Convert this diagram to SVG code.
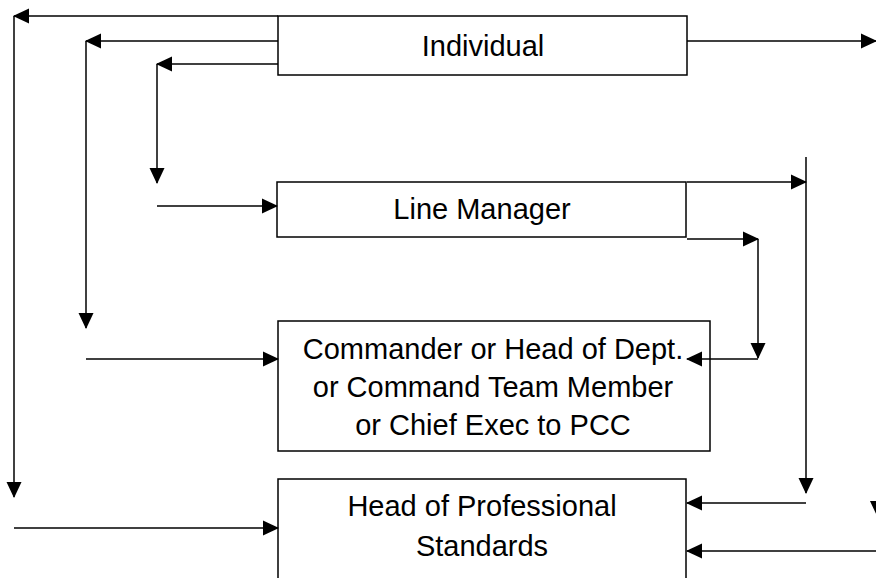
<svg xmlns="http://www.w3.org/2000/svg" width="876" height="578" viewBox="0 0 876 578">
<style>
.box{fill:#fff;stroke:#000;stroke-width:1.5}
.t{font-family:"Liberation Sans",Arial,sans-serif;font-size:29px;fill:#000;text-anchor:middle}
.c{fill:none;stroke:#000;stroke-width:1.5;marker-end:url(#ah)}
</style>
<defs>
<marker id="ah" markerUnits="userSpaceOnUse" markerWidth="16" markerHeight="16" refX="15" refY="7.5" orient="auto" overflow="visible">
<path d="M0,0 L16,7.5 L0,15 z" fill="#000"/>
</marker>
</defs>
<rect width="876" height="578" fill="#fff"/>
<g id="individual">
<rect class="box" x="278" y="16" width="409" height="59"/>
<text class="t" x="483" y="56">Individual</text>
</g>
<g id="line-manager">
<rect class="box" x="277" y="182" width="409" height="55"/>
<text class="t" x="482" y="219">Line Manager</text>
</g>
<g id="commander">
<rect class="box" x="278" y="321" width="432" height="130"/>
<text class="t" x="493" y="359">Commander or Head of Dept.</text>
<text class="t" x="493" y="397">or Command Team Member</text>
<text class="t" x="493" y="435">or Chief Exec to PCC</text>
</g>
<g id="head-prof-standards">
<rect class="box" x="278" y="479" width="408" height="120"/>
<text class="t" x="482" y="516">Head of Professional</text>
<text class="t" x="482" y="556">Standards</text>
</g>
<g id="connectors">
<path class="c" d="M278,16 H14"/>
<path class="c" d="M14,16 V497"/>
<path class="c" d="M278,41 H86"/>
<path class="c" d="M86,41 V328"/>
<path class="c" d="M278,64 H157"/>
<path class="c" d="M157,64 V183"/>
<path class="c" d="M687,41 H876"/>
<path class="c" d="M157,206 H277"/>
<path class="c" d="M86,359 H278"/>
<path class="c" d="M14,528 H278"/>
<path class="c" d="M687,182 H806"/>
<path class="c" d="M806,157 V493"/>
<path class="c" d="M687,239 H758"/>
<path class="c" d="M758,239 V358"/>
<path class="c" d="M758,359 H687"/>
<path class="c" d="M806,503 H687"/>
<path class="c" d="M876,551 H687"/>
<path class="c" d="M877.5,470 V516"/>
</g>
</svg>
